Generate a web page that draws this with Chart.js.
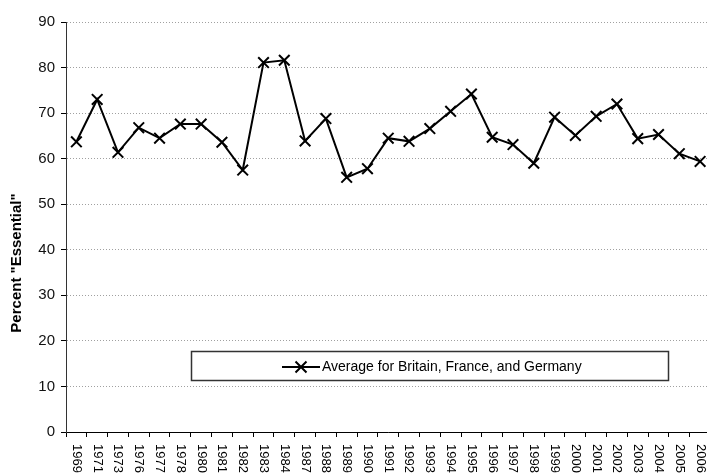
<!DOCTYPE html>
<html>
<head>
<meta charset="utf-8">
<script src="https://cdn.jsdelivr.net/npm/chart.js@4/dist/chart.umd.min.js"></script>
<style>
  html, body { margin: 0; padding: 0; background: #fff; overflow: hidden; }
  canvas { display: block; }
</style>
</head>
<body>
<canvas id="essentialChart" width="720" height="473"></canvas>
<script>
const years = ["1969", "1971", "1973", "1976", "1977", "1978", "1980", "1981", "1982", "1983",
    "1984", "1987", "1988", "1989", "1990", "1991", "1992", "1993", "1994", "1995",
    "1996", "1997", "1998", "1999", "2000", "2001", "2002", "2003", "2004", "2005", "2006"];
const averageValues = [63.7, 73.0, 61.4, 66.8, 64.5, 67.6, 67.6, 63.6, 57.5, 81.1,
    81.6, 63.9, 68.8, 55.9, 57.8, 64.5, 63.8, 66.6, 70.4, 74.2,
    64.7, 63.1, 59.0, 69.1, 65.1, 69.3, 72.0, 64.4, 65.3, 61.1, 59.4];
const seriesLabel = "Average for Britain, France, and Germany";
const yAxisTitle = 'Percent "Essential"';

const FONT = "'Liberation Sans', Arial, sans-serif";

// x labels read top to bottom, y title and legend box sit where Excel put them
const customDraw = {
    id: "customDraw",
    afterDraw(chart) {
        const ctx = chart.ctx;
        const xScale = chart.scales.x;

        ctx.save();
        ctx.fillStyle = "#000";
        ctx.font = "13px " + FONT;
        ctx.textAlign = "left";
        ctx.textBaseline = "middle";
        years.forEach(function(year, i) {
            const x = xScale.getPixelForValue(i);
            ctx.save();
            ctx.translate(x, 444);
            ctx.rotate(Math.PI / 2);
            ctx.fillText(year, 0, 0);
            ctx.restore();
        });

        // y axis title
        ctx.save();
        ctx.font = "bold 15px " + FONT;
        ctx.textAlign = "center";
        ctx.translate(17, 263);
        ctx.rotate(-Math.PI / 2);
        ctx.fillText(yAxisTitle, 0, 0);
        ctx.restore();

        // legend box
        ctx.fillStyle = "#fff";
        ctx.fillRect(191, 351, 478, 30);
        ctx.strokeStyle = "#333";
        ctx.lineWidth = 1.5;
        ctx.strokeRect(191.5, 351.5, 477, 29);

        ctx.strokeStyle = "#000";
        ctx.lineWidth = 2;
        ctx.beginPath();
        ctx.moveTo(282, 367);
        ctx.lineTo(320, 367);
        ctx.moveTo(295.5, 361.5);
        ctx.lineTo(306.5, 372.5);
        ctx.moveTo(306.5, 361.5);
        ctx.lineTo(295.5, 372.5);
        ctx.stroke();

        ctx.fillStyle = "#000";
        ctx.font = "14px " + FONT;
        ctx.textAlign = "left";
        ctx.fillText(seriesLabel, 322, 367);
        ctx.restore();
    }
};

new Chart(document.getElementById("essentialChart"), {
    type: "line",
    data: {
        labels: years,
        datasets: [{
            label: seriesLabel,
            data: averageValues,
            borderColor: "#000",
            borderWidth: 2,
            pointStyle: "crossRot",
            pointRadius: 7.5,
            pointBorderWidth: 2,
            pointBorderColor: "#000",
            tension: 0,
            fill: false
        }]
    },
    options: {
        responsive: false,
        animation: false,
        layout: {
            padding: { top: 22, right: 3, bottom: 0, left: 0 }
        },
        scales: {
            x: {
                offset: true,
                grid: {
                    offset: true,
                    drawOnChartArea: false,
                    drawTicks: true,
                    tickLength: 5,
                    tickColor: "#000"
                },
                border: { color: "#000", width: 1 },
                ticks: { display: false, autoSkip: false },
                afterFit: function(scale) { scale.height = 41; }
            },
            y: {
                min: 0,
                max: 90,
                ticks: {
                    stepSize: 10,
                    color: "#111",
                    padding: 6,
                    font: { family: FONT, size: 15 }
                },
                grid: {
                    color: "#a0a0a0",
                    tickColor: "#000",
                    tickLength: 5
                },
                border: { color: "#333", width: 1, dash: [1, 2] },
                afterFit: function(scale) { scale.width = 66; }
            }
        },
        plugins: {
            legend: { display: false },
            tooltip: { enabled: false }
        }
    },
    plugins: [customDraw]
});
</script>
</body>
</html>
